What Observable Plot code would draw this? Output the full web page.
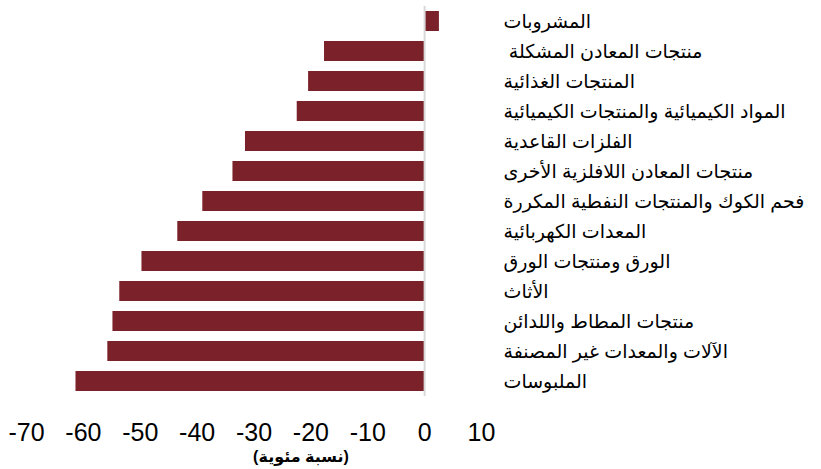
<!DOCTYPE html>
<html>
<head>
<meta charset="utf-8">
<script src="https://cdn.jsdelivr.net/npm/d3@7"></script>
<script src="https://cdn.jsdelivr.net/npm/@observablehq/plot@0.6"></script>
<style>
  html, body { margin: 0; padding: 0; background: #fff; }
  #chart svg { display: block; }
</style>
</head>
<body>
<div id="chart"></div>
<script>
const categories = [
  "المشروبات",
  "\u00A0منتجات المعادن المشكلة",
  "المنتجات الغذائية",
  "المواد الكيميائية والمنتجات الكيميائية",
  "الفلزات القاعدية",
  "منتجات المعادن اللافلزية الأخرى",
  "فحم الكوك والمنتجات النفطية المكررة",
  "المعدات الكهربائية",
  "الورق ومنتجات الورق",
  "الأثاث",
  "منتجات المطاط واللدائن",
  "الآلات والمعدات غير المصنفة",
  "الملبوسات"
];
const values = [2.6, -17.6, -20.4, -22.4, -31.5, -33.7, -39.0, -43.4, -49.7, -53.6, -54.8, -55.7, -61.3];
const xTicks = [-70, -60, -50, -40, -30, -20, -10, 0, 10];
const axisTitle = "(نسبة مئوية)";

const rows = categories.map((c, i) => ({category: c, value: values[i]}));

const chart = Plot.plot({
  width: 821,
  height: 469,
  marginTop: 6,
  marginBottom: 73,
  marginLeft: 26,
  marginRight: 340,
  style: {fontFamily: "'Liberation Sans', Arial, 'DejaVu Sans', sans-serif", background: "#fff", color: "#000"},
  x: {domain: [-70, 10]},
  y: {domain: categories, paddingInner: 1/3, paddingOuter: 1/6},
  marks: [
    Plot.barX(rows, {x: "value", y: "category", fill: "#7b2129"}),
    Plot.ruleX([0], {stroke: "#d9d9d9", strokeWidth: 2}),
    Plot.axisX({ticks: xTicks, tickFormat: d => String(d), tickSize: 0, tickPadding: 27, fontSize: 25, label: null}),
    Plot.axisY({anchor: "right", tickSize: 0, tickPadding: 22, textAnchor: "start", fontSize: 19, label: null}),
    Plot.text([axisTitle], {frameAnchor: "bottom", dx: 47, dy: 65, fontSize: 16, fontWeight: "bold", text: d => d})
  ]
});
document.getElementById("chart").appendChild(chart);
</script>
</body>
</html>
